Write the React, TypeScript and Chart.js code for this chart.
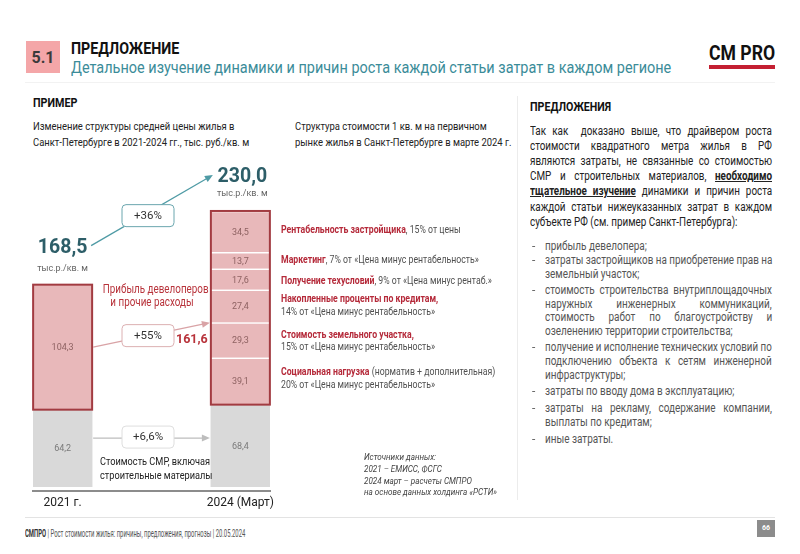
import React, { useEffect, useLayoutEffect, useRef } from 'react';
import { Chart, registerables } from 'chart.js';
Chart.register(...registerables);

// ---------- data ----------
const years = ['2021 г.', '2024 (Март)'];
const smrCost = [64.2, 68.4]; // Стоимость СМР, включая строительные материалы
const otherCost2021 = [104.3]; // Прибыль девелоперов и прочие расходы, 2021
// 2024 structure, from top to bottom
const segmentValues2024 = [34.5, 13.7, 17.6, 27.4, 29.3, 39.1];
const segmentNames = [
  'Рентабельность застройщика',
  'Маркетинг',
  'Получение техусловий',
  'Накопленные проценты по кредитам',
  'Стоимость земельного участка',
  'Социальная нагрузка',
];
const changeLabels = ['+36%', '+55%', '+6,6%'];
const unitLabel = 'тыс.р./кв. м';

const PINK = '#e8b8ba';
const DARKRED = '#a23b41';
const GRAY = '#d9d9d9';
const TEAL = '#4f9ba5';

const fmt = (v: number) => v.toFixed(1).replace('.', ',');

const annotPlugin = {
  id: 'annot',
  afterDatasetsDraw(chart: any) {
    const ctx = chart.ctx;
    const yS = chart.scales.y;
    const grayMeta = chart.getDatasetMeta(0);
    const pinkMeta = chart.getDatasetMeta(1);
    const n = chart.data.datasets.length;
    const topSegMeta = chart.getDatasetMeta(n - 1);
    const g1 = grayMeta.data[0], g2 = grayMeta.data[1];
    const p1 = pinkMeta.data[0];
    const s2 = topSegMeta.data[0];
    const hw = g1.width / 2;

    ctx.save();
    ctx.strokeStyle = DARKRED;
    ctx.lineWidth = 2;
    ctx.strokeRect(p1.x - hw, p1.y, hw * 2, g1.y - p1.y);
    ctx.strokeRect(g2.x - hw, s2.y, hw * 2, g2.y - s2.y);

    ctx.font = '9px Roboto, sans-serif';
    ctx.textAlign = 'center';
    ctx.textBaseline = 'middle';
    chart.data.datasets.forEach((ds: any, i: number) => {
      const meta = chart.getDatasetMeta(i);
      meta.data.forEach((el: any, j: number) => {
        const v = ds.data[j].y;
        ctx.fillStyle = i === 0 ? '#7a7a7a' : '#8e6262';
        ctx.fillText(fmt(v), el.x, (el.y + el.base) / 2 + 1);
      });
    });

    const total1 = smrCost[0] + otherCost2021[0];
    const sum2024 = segmentValues2024.reduce((a, b) => a + b, 0);
    const total2 = smrCost[1] + sum2024;

    ctx.fillStyle = '#2d5e68';
    ctx.font = 'bold 19.5px Roboto, sans-serif';
    ctx.fillText(fmt(total1), p1.x, p1.y - 37);
    ctx.fillText(fmt(total2), s2.x + 2, s2.y - 34);
    ctx.fillStyle = '#666';
    ctx.font = '9px Roboto, sans-serif';
    ctx.fillText(unitLabel, p1.x, p1.y - 16);
    ctx.fillText(unitLabel, s2.x + 2, s2.y - 17);

    const arrow = (x1: number, y1: number, x2: number, y2: number, col: string) => {
      ctx.strokeStyle = col;
      ctx.fillStyle = col;
      ctx.lineWidth = 1.3;
      const a = Math.atan2(y2 - y1, x2 - x1);
      ctx.beginPath();
      ctx.moveTo(x1, y1);
      ctx.lineTo(x2 - 6 * Math.cos(a), y2 - 6 * Math.sin(a));
      ctx.stroke();
      ctx.beginPath();
      ctx.moveTo(x2, y2);
      ctx.lineTo(x2 - 8 * Math.cos(a) + 3.5 * Math.sin(a), y2 - 8 * Math.sin(a) - 3.5 * Math.cos(a));
      ctx.lineTo(x2 - 8 * Math.cos(a) - 3.5 * Math.sin(a), y2 - 8 * Math.sin(a) + 3.5 * Math.cos(a));
      ctx.closePath();
      ctx.fill();
    };
    const box = (cx: number, cy: number, col: string, txt: string) => {
      const w = 52, h = 22, r = 4;
      ctx.beginPath();
      ctx.roundRect(cx - w / 2, cy - h / 2, w, h, r);
      ctx.fillStyle = '#fff';
      ctx.fill();
      ctx.strokeStyle = col;
      ctx.lineWidth = 1;
      ctx.stroke();
      ctx.fillStyle = '#333';
      ctx.font = '11.5px Roboto, sans-serif';
      ctx.textAlign = 'center';
      ctx.fillText(txt, cx, cy + 0.5);
    };
    const left2 = g2.x - hw;
    const right1 = g1.x + hw;
    const bx = 148;

    // +36%
    const a1 = { x1: right1 - 1, y1: p1.y - 39, x2: left2 + 2, y2: s2.y - 36 };
    arrow(a1.x1, a1.y1, a1.x2, a1.y2, TEAL);
    const t1 = (bx - a1.x1) / (a1.x2 - a1.x1);
    box(bx, a1.y1 + t1 * (a1.y2 - a1.y1) + 3, '#6aa6ae', changeLabels[0]);

    // +55%
    const y55a = yS.getPixelForValue(smrCost[0] + otherCost2021[0] / 2);
    const y55b = yS.getPixelForValue(smrCost[1] + segmentValues2024[5] + segmentValues2024[4]);
    arrow(right1 + 1, y55a, left2 - 1, y55b, '#d9a3a6');
    const t2 = (bx - right1) / (left2 - right1);
    box(bx, y55a + t2 * (y55b - y55a), '#dcb0b2', changeLabels[1]);
    ctx.fillStyle = '#b8333b';
    ctx.font = 'bold 12.5px Roboto, sans-serif';
    ctx.fillText(fmt(sum2024), left2 - 19, y55b + 17);

    // +6,6%
    const y66 = yS.getPixelForValue(40.5);
    arrow(right1 + 1, y66, left2 - 1, y66, '#bdbdbd');
    box(bx, y66 - 1, '#dedede', changeLabels[2]);
    ctx.restore();
  },
};

function ChartBox() {
  const ref = useRef<HTMLCanvasElement>(null);
  useEffect(() => {
    if (!ref.current) return;
    const segDatasets = segmentValues2024
      .map((v, i) => ({
        label: segmentNames[i],
        data: [{ x: 1, y: v }],
        backgroundColor: PINK,
        borderColor: '#ffffff',
        borderWidth: { top: 1.5, left: 0, right: 0, bottom: 0 },
        borderSkipped: false,
      }))
      .reverse();
    const chart = new Chart(ref.current, {
      type: 'bar',
      data: {
        datasets: [
          {
            label: 'Стоимость СМР',
            data: smrCost.map((v, i) => ({ x: i, y: v })),
            backgroundColor: GRAY,
            borderWidth: 0,
          },
          {
            label: 'Прибыль девелоперов и прочие расходы',
            data: otherCost2021.map((v) => ({ x: 0, y: v })),
            backgroundColor: PINK,
            borderWidth: 0,
          },
          ...segDatasets,
        ] as any,
      },
      options: {
        animation: false,
        responsive: false,
        barThickness: 59,
        layout: { padding: { left: 33, right: 30, top: 187, bottom: 0 } },
        plugins: { legend: { display: false }, tooltip: { enabled: false } },
        scales: {
          x: {
            type: 'linear',
            min: -1 / 6,
            max: 7 / 6,
            offset: false,
            stacked: true,
            grid: { display: false, drawTicks: false },
            border: { display: true, color: '#8c8c8c', width: 2 },
            afterBuildTicks: (scale: any) => {
              scale.ticks = years.map((_, i) => ({ value: i }));
            },
            ticks: {
              padding: 5,
              color: '#222',
              font: { family: 'Roboto', size: 12 },
              callback: (v: any) => years[v] ?? '',
            },
          },
          y: {
            stacked: true,
            display: false,
            min: -10 / 3,
            max: 250,
          },
        },
      } as any,
      plugins: [annotPlugin],
    });
    return () => chart.destroy();
  }, []);
  return (
    <canvas
      ref={ref}
      width={300}
      height={515}
      style={{ position: 'absolute', left: 0, top: 0, width: 300, height: 515 }}
    />
  );
}

type TP = {
  x: number; y: number; s?: number; c?: string; w?: number; sx?: number;
  it?: boolean; children?: any; width?: number; align?: any;
};
const T = ({ x, y, s = 11, c = '#333', w = 400, sx = 1, it = false, children, width, align }: TP) => {
  const style: any = {
    position: 'absolute',
    left: x,
    top: y - s * 0.6,
    fontSize: s,
    lineHeight: `${s * 1.2}px`,
    color: c,
    fontWeight: w,
    fontStyle: it ? 'italic' : 'normal',
    whiteSpace: 'nowrap',
    transform: `scaleX(${sx})`,
    transformOrigin: align === 'center' ? 'center center' : 'left center',
  };
  if (width) {
    style.width = width;
    if (align) style.textAlign = align;
  }
  return <div style={style}>{children}</div>;
};

type JP = { x: number; y: number; s: number; c: string; sx: number; width: number; children?: any };
function J({ x, y, s, c, sx, width, children }: JP) {
  const ref = useRef<HTMLDivElement>(null);
  useLayoutEffect(() => {
    const el = ref.current;
    if (!el) return;
    el.style.wordSpacing = '0px';
    el.style.transform = `scaleX(${sx})`;
    const nat = el.offsetWidth * sx;
    const n = ((el.textContent || '').match(/ /g) || []).length;
    if (nat <= width && n > 0) el.style.wordSpacing = `${(width - nat) / sx / n}px`;
    else if (nat > width) el.style.transform = `scaleX(${(sx * width) / nat})`;
  }, []);
  return (
    <div
      ref={ref}
      style={{
        position: 'absolute', left: x, top: y - s * 0.6, fontSize: s,
        lineHeight: `${s * 1.2}px`, color: c, whiteSpace: 'pre',
        transform: `scaleX(${sx})`, transformOrigin: 'left center',
      }}
    >
      {children}
    </div>
  );
}

const RED = '#b52a3a';
const MID = '#505050';

const paraLines: [any, number, boolean][] = [
  ['Так как  доказано выше, что драйвером роста', 130, true],
  ['стоимости квадратного метра жилья в РФ', 145.2, true],
  ['являются затраты, не связанные со стоимостью', 160.4, true],
  [<>СМР и строительных материалов, <b><u>необходимо</u></b></>, 175.6, true],
  [<><b><u>тщательное изучение</u></b> динамики и причин роста</>, 190.8, true],
  ['каждой статьи нижеуказанных затрат в каждом', 206, true],
  ['субъекте РФ (см. пример Санкт-Петербурга):', 221.2, false],
];

const bulletLines: [string, number, boolean, boolean][] = [
  ['прибыль девелопера;', 246, false, true],
  ['затраты застройщиков на приобретение прав на', 260.5, true, true],
  ['земельный участок;', 274, false, false],
  ['стоимость строительства внутриплощадочных', 290.5, true, true],
  ['наружных инженерных коммуникаций,', 304, true, false],
  ['стоимость работ по благоустройству и', 317.5, true, false],
  ['озеленению территории строительства;', 331, false, false],
  ['получение и исполнение технических условий по', 347.5, true, true],
  ['подключению объекта к сетям инженерной', 361, true, false],
  ['инфраструктуры;', 375, false, false],
  ['затраты по вводу дома в эксплуатацию;', 391.5, false, true],
  ['затраты на рекламу, содержание компании,', 408, true, true],
  ['выплаты по кредитам;', 422, false, false],
  ['иные затраты.', 439, false, true],
];

export default function App() {
  const PS = 12.5, PSX = 0.79;
  const BS = 12, BSX = 0.83;
  const NS = 10.5, NSX = 0.83;
  const TS = 11.5, TSX = 0.82;
  return (
    <div
      style={{
        position: 'absolute', left: 0, top: 0, width: 800, height: 554,
        background: '#fff', overflow: 'hidden', fontFamily: 'Roboto, sans-serif',
      }}
    >
      {/* header */}
      <div style={{ position: 'absolute', left: 26, top: 41, width: 34, height: 32, background: '#f4a6a8' }} />
      <T x={26} y={58} s={16} w={700} c="#3a3a3a" width={34} align="center">5.1</T>
      <T x={71} y={48} s={17} w={700} c="#111" sx={0.84}>ПРЕДЛОЖЕНИЕ</T>
      <T x={71} y={68} s={16.5} c="#3b8c99" sx={0.877}>Детальное изучение динамики и причин роста каждой статьи затрат в каждом регионе</T>
      <T x={709} y={54} s={21} w={700} c="#111" sx={0.84}>CM PRO</T>
      <div style={{ position: 'absolute', left: 709, top: 65, width: 66, height: 4, background: '#c42032' }} />
      <div style={{ position: 'absolute', left: 25, top: 82, width: 750, height: 1, background: '#f2f2f2' }} />

      {/* left titles */}
      <T x={33} y={102} s={12.5} w={700} c="#111" sx={0.86}>ПРИМЕР</T>
      <T x={33} y={127} s={TS} c="#222" sx={TSX}>Изменение структуры средней цены жилья в</T>
      <T x={33} y={143} s={TS} c="#222" sx={TSX}>Санкт-Петербурге в 2021-2024 гг., тыс. руб./кв. м</T>
      <T x={295} y={127} s={TS} c="#222" sx={TSX}>Структура стоимости 1 кв. м на первичном</T>
      <T x={295} y={143} s={TS} c="#222" sx={TSX}>рынке жилья в Санкт-Петербурге в марте 2024 г.</T>
      <div style={{ position: 'absolute', left: 517, top: 96, width: 1, height: 404, background: '#ececec' }} />

      <ChartBox />

      {/* chart annotations */}
      <T x={92} y={289} s={12} c="#b8333b" sx={0.82} width={120} align="center">Прибыль девелоперов</T>
      <T x={92} y={302} s={12} c="#b8333b" sx={0.82} width={120} align="center">и прочие расходы</T>
      <T x={87} y={462} s={11.5} c="#222" sx={0.8} width={130} align="center">Стоимость СМР, включая</T>
      <T x={87} y={476} s={11.5} c="#222" sx={0.8} width={130} align="center">строительные материалы</T>

      <T x={281} y={230} s={NS} c={MID} sx={NSX}><span style={{ color: RED, fontWeight: 700 }}>{segmentNames[0]}</span>, 15% от цены</T>
      <T x={281} y={260} s={NS} c={MID} sx={NSX}><span style={{ color: RED, fontWeight: 700 }}>{segmentNames[1]}</span>, 7% от «Цена минус рентабельность»</T>
      <T x={281} y={281} s={NS} c={MID} sx={NSX}><span style={{ color: RED, fontWeight: 700 }}>{segmentNames[2]}</span>, 9% от «Цена минус рентаб.»</T>
      <T x={281} y={299} s={NS} c={MID} sx={NSX}><span style={{ color: RED, fontWeight: 700 }}>{segmentNames[3]},</span></T>
      <T x={281} y={312} s={NS} c={MID} sx={NSX}>14% от «Цена минус рентабельность»</T>
      <T x={281} y={335} s={NS} c={MID} sx={NSX}><span style={{ color: RED, fontWeight: 700 }}>{segmentNames[4]},</span></T>
      <T x={281} y={347} s={NS} c={MID} sx={NSX}>15% от «Цена минус рентабельность»</T>
      <T x={281} y={372} s={NS} c={MID} sx={NSX}><span style={{ color: RED, fontWeight: 700 }}>{segmentNames[5]}</span> (норматив + дополнительная)</T>
      <T x={281} y={385} s={NS} c={MID} sx={NSX}>20% от «Цена минус рентабельность»</T>

      <T x={364} y={457} s={9} c="#444" it sx={0.9}>Источники данных:</T>
      <T x={364} y={469} s={9} c="#444" it sx={0.9}>2021 – ЕМИСС, ФСГС</T>
      <T x={364} y={481} s={9} c="#444" it sx={0.9}>2024 март – расчеты СМПРО</T>
      <T x={364} y={492} s={9} c="#444" it sx={0.9}>на основе данных холдинга «РСТИ»</T>

      {/* right column */}
      <T x={530} y={107} s={13} w={700} c="#111" sx={0.82}>ПРЕДЛОЖЕНИЯ</T>
      {paraLines.map(([t, y, j], i) =>
        j ? (
          <J key={'p' + i} x={530} y={y} s={PS} c="#222" sx={PSX} width={242}>{t}</J>
        ) : (
          <T key={'p' + i} x={530} y={y} s={PS} c="#222" sx={PSX}>{t}</T>
        )
      )}
      {bulletLines.map(([t, y, j, dash], i) => (
        <React.Fragment key={'b' + i}>
          {dash && <T x={532} y={y} s={BS} c="#666">-</T>}
          {j ? (
            <J x={545} y={y} s={BS} c="#555" sx={BSX} width={227}>{t}</J>
          ) : (
            <T x={545} y={y} s={BS} c="#555" sx={BSX}>{t}</T>
          )}
        </React.Fragment>
      ))}

      {/* footer */}
      <div style={{ position: 'absolute', left: 25, top: 517, width: 750, height: 1, background: '#e3e3e3' }} />
      <T x={25} y={534} s={10} c="#555" sx={0.59}><b style={{ color: '#333' }}>СМПРО</b> | Рост стоимости жилья: причины, предложения, прогнозы  |  20.05.2024</T>
      <div style={{ position: 'absolute', left: 757, top: 520, width: 18, height: 17, background: '#8c8c8c', color: '#fff', fontSize: 7, fontWeight: 700, lineHeight: '17px', textAlign: 'center' }}>66</div>
    </div>
  );
}
